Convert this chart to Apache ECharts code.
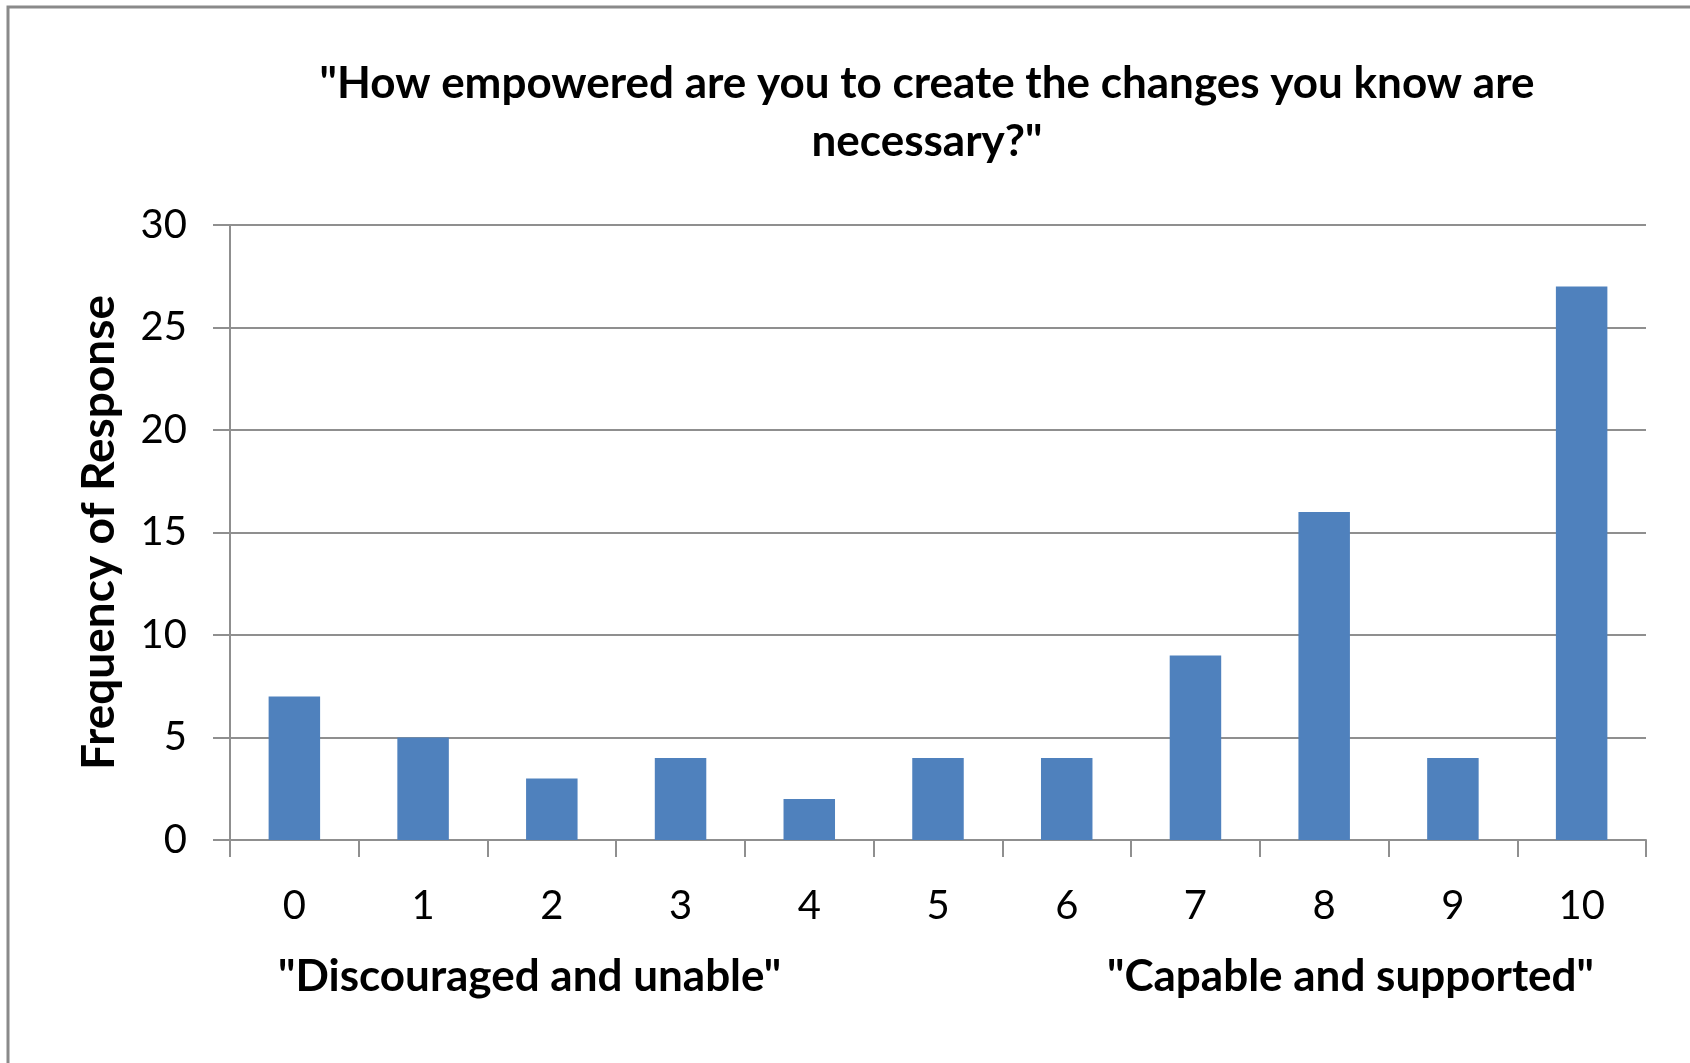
<!DOCTYPE html>
<html>
<head>
<meta charset="utf-8">
<script src="https://cdn.jsdelivr.net/npm/echarts@6/dist/echarts.min.js"></script>
<style>
  html, body { margin: 0; padding: 0; background: #ffffff; }
  #chart { width: 1690px; height: 1063px; }
</style>
</head>
<body>
<div id="chart"></div>
<script>
// Survey scale points and how many respondents picked each one
const categories = ['0', '1', '2', '3', '4', '5', '6', '7', '8', '9', '10'];
const frequencies = [7, 5, 3, 4, 2, 4, 4, 9, 16, 4, 27];
const yTicks = { min: 0, max: 30, interval: 5 };

const titleText = '"How empowered are you to create the changes you know are\nnecessary?"';
const yAxisTitle = 'Frequency of Response';
const lowEndLabel = '"Discouraged and unable"';
const highEndLabel = '"Capable and supported"';

const FONT = 'Lato, "Open Sans", sans-serif';
const AXIS_GREY = '#8f8f8f';

const chart = echarts.init(document.getElementById('chart'), null, { renderer: 'canvas' });

chart.setOption({
  animation: false,
  backgroundColor: '#ffffff',
  title: {
    text: titleText,
    left: 922,
    textAlign: 'center',
    top: 50,
    textStyle: {
      fontFamily: FONT,
      fontWeight: 'bold',
      fontSize: 44,
      lineHeight: 58,
      color: '#000000'
    }
  },
  grid: { left: 230, right: 44, top: 225, bottom: 223, containLabel: false },
  xAxis: {
    type: 'category',
    data: categories,
    boundaryGap: true,
    axisLine: { show: true, lineStyle: { color: AXIS_GREY, width: 2 } },
    axisTick: { show: true, length: 17, alignWithLabel: false, lineStyle: { color: AXIS_GREY, width: 2 } },
    axisLabel: { margin: 46, fontFamily: FONT, fontSize: 40, color: '#000000' },
    splitLine: { show: false }
  },
  yAxis: {
    type: 'value',
    min: yTicks.min,
    max: yTicks.max,
    interval: yTicks.interval,
    name: yAxisTitle,
    nameLocation: 'middle',
    nameGap: 108,
    nameRotate: 90,
    nameTextStyle: { fontFamily: FONT, fontWeight: 'bold', fontSize: 46, color: '#000000' },
    axisLine: { show: true, lineStyle: { color: AXIS_GREY, width: 2 } },
    axisTick: { show: true, length: 17, lineStyle: { color: AXIS_GREY, width: 2 } },
    axisLabel: { margin: 43, fontFamily: FONT, fontSize: 40, color: '#000000' },
    splitLine: { show: true, lineStyle: { color: AXIS_GREY, width: 2 } }
  },
  series: [{
    type: 'bar',
    data: frequencies,
    barWidth: '40%',
    itemStyle: { color: '#4F81BD' }
  }],
  graphic: [
    {
      type: 'rect',
      silent: true,
      shape: { x: 8, y: 7, width: 1720, height: 1100 },
      style: { fill: 'none', stroke: '#8a8a8a', lineWidth: 3 }
    },
    {
      type: 'text',
      left: 278,
      top: 955,
      style: { text: lowEndLabel, font: 'bold 44px ' + FONT, fill: '#000000' }
    },
    {
      type: 'text',
      left: 1107,
      top: 955,
      style: { text: highEndLabel, font: 'bold 44px ' + FONT, fill: '#000000' }
    }
  ]
});
</script>
</body>
</html>
